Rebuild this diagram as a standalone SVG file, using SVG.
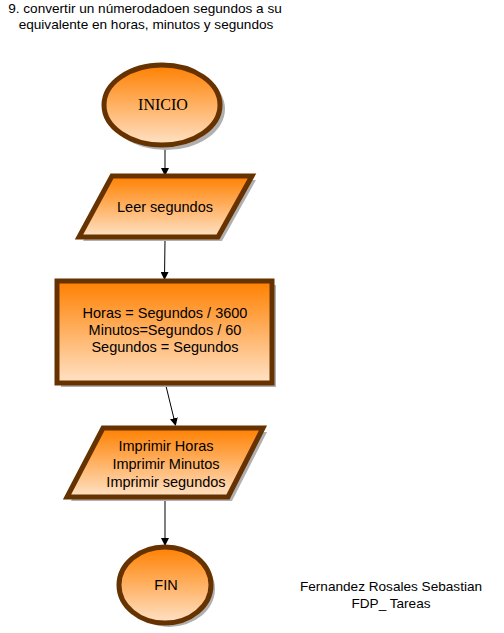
<svg xmlns="http://www.w3.org/2000/svg" width="504" height="633" viewBox="0 0 504 633">
<defs>
<linearGradient id="g" x1="0" y1="0" x2="0" y2="1">
<stop offset="0" stop-color="#ff8000"/>
<stop offset="1" stop-color="#ffe2c6"/>
</linearGradient>
<marker id="ah" markerWidth="8" markerHeight="8" refX="7" refY="4" orient="auto" markerUnits="userSpaceOnUse">
<path d="M0,0 L8,4 L0,8 Z" fill="#000"/>
</marker>
</defs>
<style>
.sh{fill:#b0b0b0}
.nd{fill:url(#g);stroke:#663300;stroke-width:5}
.t{font-family:"Liberation Sans","DejaVu Sans",sans-serif;font-size:14.5px;fill:#000;text-anchor:middle}
.ts{font-family:"Liberation Serif","DejaVu Serif",serif;font-size:16px;fill:#000;text-anchor:middle}
.tt{font-family:"Liberation Sans","DejaVu Sans",sans-serif;font-size:13.6px;fill:#000;text-anchor:middle}
.c{stroke:#000;stroke-width:1;fill:none;marker-end:url(#ah)}
</style>
<g id="title">
<text class="tt" x="145" y="13">9. convertir un númerodadoen segundos a su</text>
<text class="tt" x="146" y="29">equivalente en horas, minutos y segundos</text>
</g>
<g id="connectors">
<line class="c" x1="165" y1="148" x2="165" y2="175"/>
<line class="c" x1="165" y1="240" x2="164.5" y2="279"/>
<line class="c" x1="166" y1="386" x2="175.5" y2="425"/>
<line class="c" x1="165" y1="500" x2="165" y2="545"/>
</g>
<g id="inicio">
<ellipse class="sh" cx="166" cy="109" rx="59" ry="41"/>
<ellipse class="nd" cx="162" cy="105" rx="58" ry="40"/>
<text class="ts" x="163" y="110">INICIO</text>
</g>
<g id="leer">
<polygon class="sh" points="116,180 256,180 222,241 83,241"/>
<polygon class="nd" points="112,176 252,176 218,237 79,237"/>
<text class="t" x="165" y="212">Leer segundos</text>
</g>
<g id="proceso">
<rect class="sh" x="61" y="285" width="215" height="102"/>
<rect class="nd" x="57" y="281" width="215" height="102"/>
<text class="t" x="165" y="318">Horas = Segundos / 3600</text>
<text class="t" x="165" y="335">Minutos=Segundos / 60</text>
<text class="t" x="165" y="352">Segundos = Segundos</text>
</g>
<g id="imprimir">
<polygon class="sh" points="107,432 267,432 232,501 71,501"/>
<polygon class="nd" points="103,428 263,428 228,497 67,497"/>
<text class="t" x="166" y="451">Imprimir Horas</text>
<text class="t" x="166" y="469">Imprimir Minutos</text>
<text class="t" x="166" y="487">Imprimir segundos</text>
</g>
<g id="fin">
<ellipse class="sh" cx="169" cy="589" rx="46" ry="38"/>
<ellipse class="nd" cx="165" cy="585" rx="46" ry="38"/>
<text class="t" x="166" y="590">FIN</text>
</g>
<g id="autor">
<text class="tt" x="391" y="591">Fernandez Rosales Sebastian</text>
<text class="tt" x="391" y="608">FDP_ Tareas</text>
</g>
</svg>
